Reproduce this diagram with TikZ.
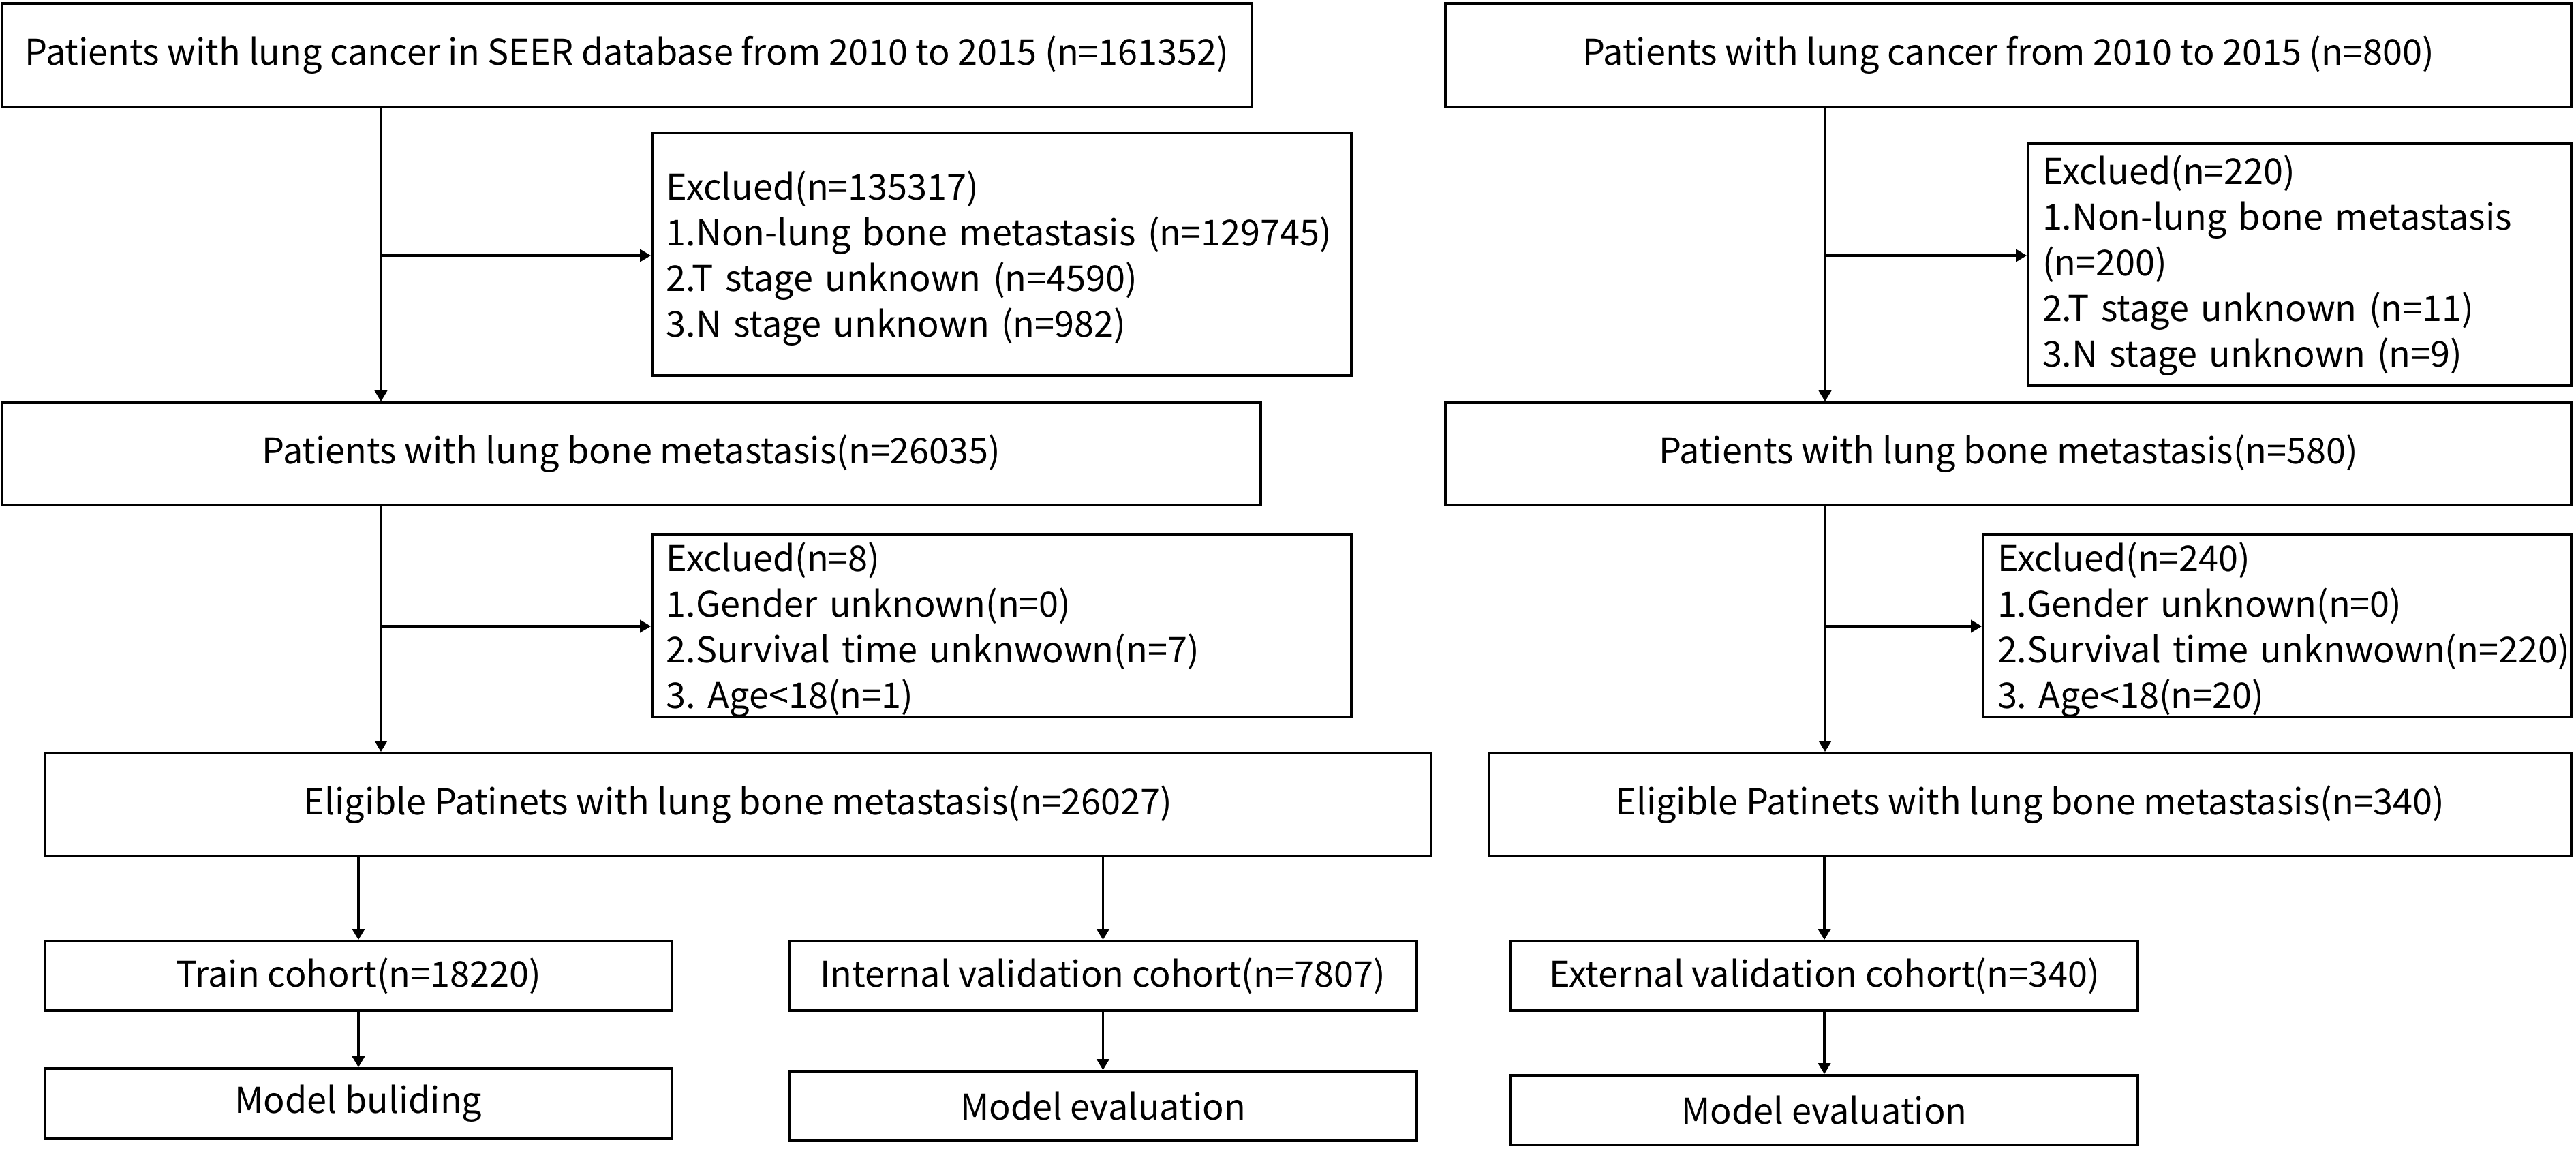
\documentclass[tikz,border=0pt]{standalone}
\usepackage{fontspec}
\setmainfont{Noto Sans CJK SC}
\usetikzlibrary{positioning,arrows.meta}
\frenchspacing

\begin{document}
\begin{tikzpicture}[node distance=2.5cm, auto, line width=1.05pt,
    >={Triangle[length=0.16cm,width=0.18cm]},
    font=\fontsize{14.85}{19.1}\selectfont,
    box/.style={draw, inner sep=0pt, minimum height=1.51cm},
    exbox/.style={draw, align=left, inner xsep=0.21cm, inner ysep=0pt}]
    \useasboundingbox (-9.20,0.81) rectangle (28.60,-16.07);

    % SEER cohort
    \node[box, minimum width=18.34cm, minimum height=1.52cm] (B1) {Patients with lung cancer in SEER database from 2010 to 2015 (n=161352)};
    \node[exbox, text width=9.84cm, text height=0.98cm, text depth=2.58cm] (E1) [below of=B1, node distance=2.92cm, xshift=5.50cm]
        {Exclued(n=135317)\\\mbox{1.Non-lung bone metastasis (n=129745)}\\2.T stage unknown (n=4590)\\3.N stage unknown (n=982)};
    \node[box, minimum width=18.47cm, minimum height=1.50cm] (B2) [below of=B1, node distance=5.85cm, xshift=0.065cm] {Patients with lung bone metastasis(n=26035)};
    \node[exbox, text width=9.84cm, text height=0.54cm, text depth=2.14cm] (E2) [below of=E1, node distance=5.45cm]
        {Exclued(n=8)\\1.Gender unknown(n=0)\\2.Survival time unknwown(n=7)\\3. Age<18(n=1)};
    \node[box, minimum width=20.34cm] (B3) [below of=B2, node distance=5.145cm, xshift=1.565cm] {Eligible Patinets with lung bone metastasis(n=26027)};
    \node[box, minimum width=9.20cm, minimum height=1.02cm] (Train) [below of=B3, node distance=2.515cm, xshift=-5.57cm] {Train cohort(n=18220)};
    \node[box, minimum width=9.20cm, minimum height=1.03cm] (Build) [below of=Train, node distance=1.875cm] {Model buliding};
    \node[box, minimum width=9.21cm, minimum height=1.02cm] (Internal) [right of=Train, node distance=10.925cm] {Internal validation cohort(n=7807)};
    \node[box, minimum width=9.21cm, minimum height=1.02cm] (EvalL) [below of=Internal, node distance=1.91cm] {Model evaluation};

    % external cohort
    \node[box, minimum width=16.52cm, minimum height=1.52cm] (R1) [right of=B1, node distance=20.27cm] {Patients with lung cancer from 2010 to 2015 (n=800)};
    \node[exbox, text width=7.55cm, text height=0.59cm, text depth=2.96cm] (RE1) [below of=R1, node distance=3.075cm, xshift=4.275cm]
        {Exclued(n=220)\\1.Non-lung bone metastasis\\(n=200)\\2.T stage unknown (n=11)\\3.N stage unknown (n=9)};
    \node[box, minimum width=16.52cm, minimum height=1.50cm] (R2) [below of=R1, node distance=5.85cm] {Patients with lung bone metastasis(n=580)};
    \node[exbox, text width=8.21cm, text height=0.54cm, text depth=2.14cm] (RE2) [below of=R2, node distance=2.52cm, xshift=3.945cm]
        {Exclued(n=240)\\1.Gender unknown(n=0)\\\mbox{2.Survival time unknwown(n=220)}\\3. Age<18(n=20)};
    \node[box, minimum width=15.88cm] (R3) [below of=R2, node distance=5.145cm, xshift=0.32cm] {Eligible Patinets with lung bone metastasis(n=340)};
    \node[box, minimum width=9.20cm, minimum height=1.02cm] (Ext) [below of=R3, node distance=2.515cm, xshift=-3.02cm] {External validation cohort(n=340)};
    \node[box, minimum width=9.20cm, minimum height=1.02cm] (EvalR) [below of=Ext, node distance=1.97cm] {Model evaluation};

    \coordinate (forkL1) at (-3.61,-2.94);
    \coordinate (forkL2) at (-3.61,-8.38);
    \coordinate (forkR1) at (17.58,-2.94);
    \coordinate (forkR2) at (17.58,-8.38);

    \draw[->] (B1.south -| forkL1) to (B2.north -| forkL1);
    \draw[->] (forkL1) to (forkL1 -| E1.west);
    \draw[->] (B2.south -| forkL2) to (B3.north -| forkL2);
    \draw[->] (forkL2) to (forkL2 -| E2.west);
    \draw[->] (B3.south -| Train) to (Train.north);
    \draw[->] (B3.south -| Internal) to (Internal.north);
    \draw[->] (Train) to (Build);
    \draw[->] (Internal) to (EvalL);

    \draw[->] (R1.south -| forkR1) to (R2.north -| forkR1);
    \draw[->] (forkR1) to (forkR1 -| RE1.west);
    \draw[->] (R2.south -| forkR2) to (R3.north -| forkR2);
    \draw[->] (forkR2) to (forkR2 -| RE2.west);
    \draw[->] (R3.south -| Ext) to (Ext.north);
    \draw[->] (Ext) to (EvalR);
  \end{tikzpicture}
\end{document}
